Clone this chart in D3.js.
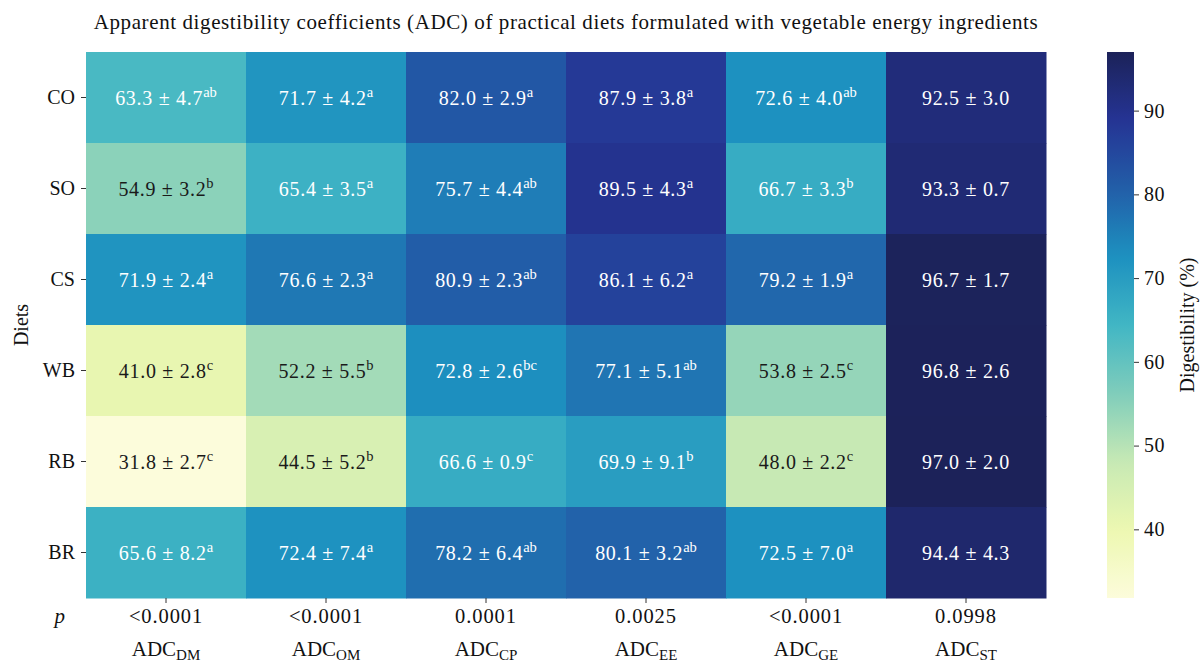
<!DOCTYPE html>
<html>
<head>
<meta charset="utf-8">
<script src="https://cdn.jsdelivr.net/npm/d3@7"></script>
<style>
  body { margin: 0; background: #fff; }
  svg { font-family: "Liberation Serif", "DejaVu Serif", serif; }
</style>
</head>
<body>
<div id="chart"></div>
<script>
// Rows (diets) and columns (ADC measures)
const diets = ["CO", "SO", "CS", "WB", "RB", "BR"];
const measureSubs = ["DM", "OM", "CP", "EE", "GE", "ST"];
const pValues = ["<0.0001", "<0.0001", "0.0001", "0.0025", "<0.0001", "0.0998"];

// Mean digestibility, one array per diet
const means = [
  [63.3, 71.7, 82.0, 87.9, 72.6, 92.5],
  [54.9, 65.4, 75.7, 89.5, 66.7, 93.3],
  [71.9, 76.6, 80.9, 86.1, 79.2, 96.7],
  [41.0, 52.2, 72.8, 77.1, 53.8, 96.8],
  [31.8, 44.5, 66.6, 69.9, 48.0, 97.0],
  [65.6, 72.4, 78.2, 80.1, 72.5, 94.4]
];
const sds = [
  [4.7, 4.2, 2.9, 3.8, 4.0, 3.0],
  [3.2, 3.5, 4.4, 4.3, 3.3, 0.7],
  [2.4, 2.3, 2.3, 6.2, 1.9, 1.7],
  [2.8, 5.5, 2.6, 5.1, 2.5, 2.6],
  [2.7, 5.2, 0.9, 9.1, 2.2, 2.0],
  [8.2, 7.4, 6.4, 3.2, 7.0, 4.3]
];
const letters = [
  ["ab", "a", "a", "a", "ab", ""],
  ["b", "a", "ab", "a", "b", ""],
  ["a", "a", "ab", "a", "a", ""],
  ["c", "b", "bc", "ab", "c", ""],
  ["c", "b", "c", "b", "c", ""],
  ["a", "a", "ab", "ab", "a", ""]
];
const colorTicks = [40, 50, 60, 70, 80, 90];

const width = 1200, height = 662;
const margin = { left: 86, right: 154, top: 52, bottom: 64 };

const svg = d3.select("#chart").append("svg")
    .attr("width", width)
    .attr("height", height);

const x = d3.scaleBand().domain(measureSubs).range([margin.left, width - margin.right]);
const y = d3.scaleBand().domain(diets).range([margin.top, height - margin.bottom]);

const flat = means.flat();
const vmin = d3.min(flat), vmax = d3.max(flat);

// YlGnBu, linear between the brewer stops (as matplotlib does), dark end as seen in the picture
const ylgnbu = ["#fcfcdb", "#edf8b1", "#c7e9b4", "#7fcdbb", "#41b6c4", "#1d91c0", "#225ea8", "#253494", "#1c2259"];
const color = d3.scaleSequential(d3.piecewise(d3.interpolateRgb, ylgnbu)).domain([vmin, vmax]);

// relative luminance, to choose the label colour like seaborn does
function luminance(c) {
    const rgb = d3.rgb(c);
    const ch = [rgb.r, rgb.g, rgb.b].map(v => {
        v = v / 255;
        return v <= 0.03928 ? v / 12.92 : Math.pow((v + 0.055) / 1.055, 2.4);
    });
    return 0.2126 * ch[0] + 0.7152 * ch[1] + 0.0722 * ch[2];
}

const cells = [];
diets.forEach((d, i) => {
    measureSubs.forEach((m, j) => {
        cells.push({ diet: d, measure: m, mean: means[i][j], sd: sds[i][j], letter: letters[i][j] });
    });
});

svg.append("g")
  .selectAll("rect")
  .data(cells)
  .join("rect")
    .attr("x", d => x(d.measure))
    .attr("y", d => y(d.diet))
    .attr("width", x.bandwidth() + 0.5)
    .attr("height", y.bandwidth() + 0.5)
    .attr("fill", d => color(d.mean));

const labels = svg.append("g")
  .selectAll("text")
  .data(cells)
  .join("text")
    .attr("x", d => x(d.measure) + x.bandwidth() / 2)
    .attr("y", d => y(d.diet) + y.bandwidth() / 2 + 7)
    .attr("text-anchor", "middle")
    .attr("font-size", 20)
    .attr("letter-spacing", 0.7)
    .attr("fill", d => luminance(color(d.mean)) > 0.408 ? "#1a1a1a" : "#fff");

labels.append("tspan").text(d => `${d.mean.toFixed(1)} ± ${d.sd.toFixed(1)}`);
labels.filter(d => d.letter)
  .append("tspan")
    .attr("dy", -8)
    .attr("font-size", 14.5)
    .attr("letter-spacing", 0)
    .text(d => d.letter);

// y axis: diets
const yAxis = svg.append("g")
    .attr("transform", `translate(${margin.left},0)`)
    .call(d3.axisLeft(y).tickSize(5).tickPadding(6));
yAxis.select(".domain").remove();
yAxis.selectAll(".tick line").attr("stroke", "#333");
yAxis.selectAll(".tick text")
    .attr("font-size", 20)
    .attr("font-family", "Liberation Serif")
    .attr("fill", "#111");

svg.append("text")
    .attr("transform", `translate(28,${(margin.top + height - margin.bottom) / 2}) rotate(-90)`)
    .attr("text-anchor", "middle")
    .attr("font-size", 20)
    .attr("fill", "#111")
    .text("Diets");

// x axis ticks
const xAxis = svg.append("g")
    .attr("transform", `translate(0,${height - margin.bottom})`)
    .call(d3.axisBottom(x).tickSize(5).tickFormat(""));
xAxis.select(".domain").remove();
xAxis.selectAll(".tick line").attr("stroke", "#333");

// p-values row
const bottomY = height - margin.bottom;
svg.append("text")
    .attr("x", 65)
    .attr("y", bottomY + 25)
    .attr("text-anchor", "end")
    .attr("font-size", 21)
    .attr("font-style", "italic")
    .attr("fill", "#111")
    .text("p");

svg.append("g")
  .selectAll("text")
  .data(measureSubs)
  .join("text")
    .attr("x", d => x(d) + x.bandwidth() / 2)
    .attr("y", bottomY + 25)
    .attr("text-anchor", "middle")
    .attr("font-size", 20.5)
    .attr("letter-spacing", 0.9)
    .attr("fill", "#111")
    .text((d, i) => pValues[i]);

// ADC column names with subscripts
const colNames = svg.append("g")
  .selectAll("text")
  .data(measureSubs)
  .join("text")
    .attr("x", d => x(d) + x.bandwidth() / 2)
    .attr("y", bottomY + 58)
    .attr("text-anchor", "middle")
    .attr("font-size", 21)
    .attr("fill", "#111");
colNames.append("tspan").text("ADC");
colNames.append("tspan").attr("dy", 4).attr("font-size", 15).text(d => d);

// title
svg.append("text")
    .attr("x", (margin.left + width - margin.right) / 2)
    .attr("y", 29)
    .attr("text-anchor", "middle")
    .attr("font-size", 21)
    .attr("letter-spacing", 0.6)
    .attr("fill", "#111")
    .text("Apparent digestibility coefficients (ADC) of practical diets formulated with vegetable energy ingredients");

// colour bar
const cbX = 1107, cbW = 27;
const cbScale = d3.scaleLinear().domain([vmin, vmax]).range([height - margin.bottom, margin.top]);

const defs = svg.append("defs");
const grad = defs.append("linearGradient")
    .attr("id", "cbGrad")
    .attr("x1", 0).attr("y1", 1).attr("x2", 0).attr("y2", 0);
grad.selectAll("stop")
  .data(d3.range(0, 1.0001, 0.02))
  .join("stop")
    .attr("offset", d => d)
    .attr("stop-color", d => color(vmin + d * (vmax - vmin)));

svg.append("rect")
    .attr("x", cbX)
    .attr("y", margin.top)
    .attr("width", cbW)
    .attr("height", height - margin.bottom - margin.top)
    .attr("fill", "url(#cbGrad)");

const cbAxis = svg.append("g")
    .attr("transform", `translate(${cbX + cbW},0)`)
    .call(d3.axisRight(cbScale).tickValues(colorTicks).tickSize(5).tickPadding(5));
cbAxis.select(".domain").remove();
cbAxis.selectAll(".tick line").attr("stroke", "#333");
cbAxis.selectAll(".tick text")
    .attr("font-size", 20)
    .attr("letter-spacing", 0.5)
    .attr("font-family", "Liberation Serif")
    .attr("fill", "#111");

svg.append("text")
    .attr("transform", `translate(1194,${(margin.top + height - margin.bottom) / 2}) rotate(-90)`)
    .attr("text-anchor", "middle")
    .attr("font-size", 20)
    .attr("fill", "#111")
    .text("Digestibility (%)");
</script>
</body>
</html>
